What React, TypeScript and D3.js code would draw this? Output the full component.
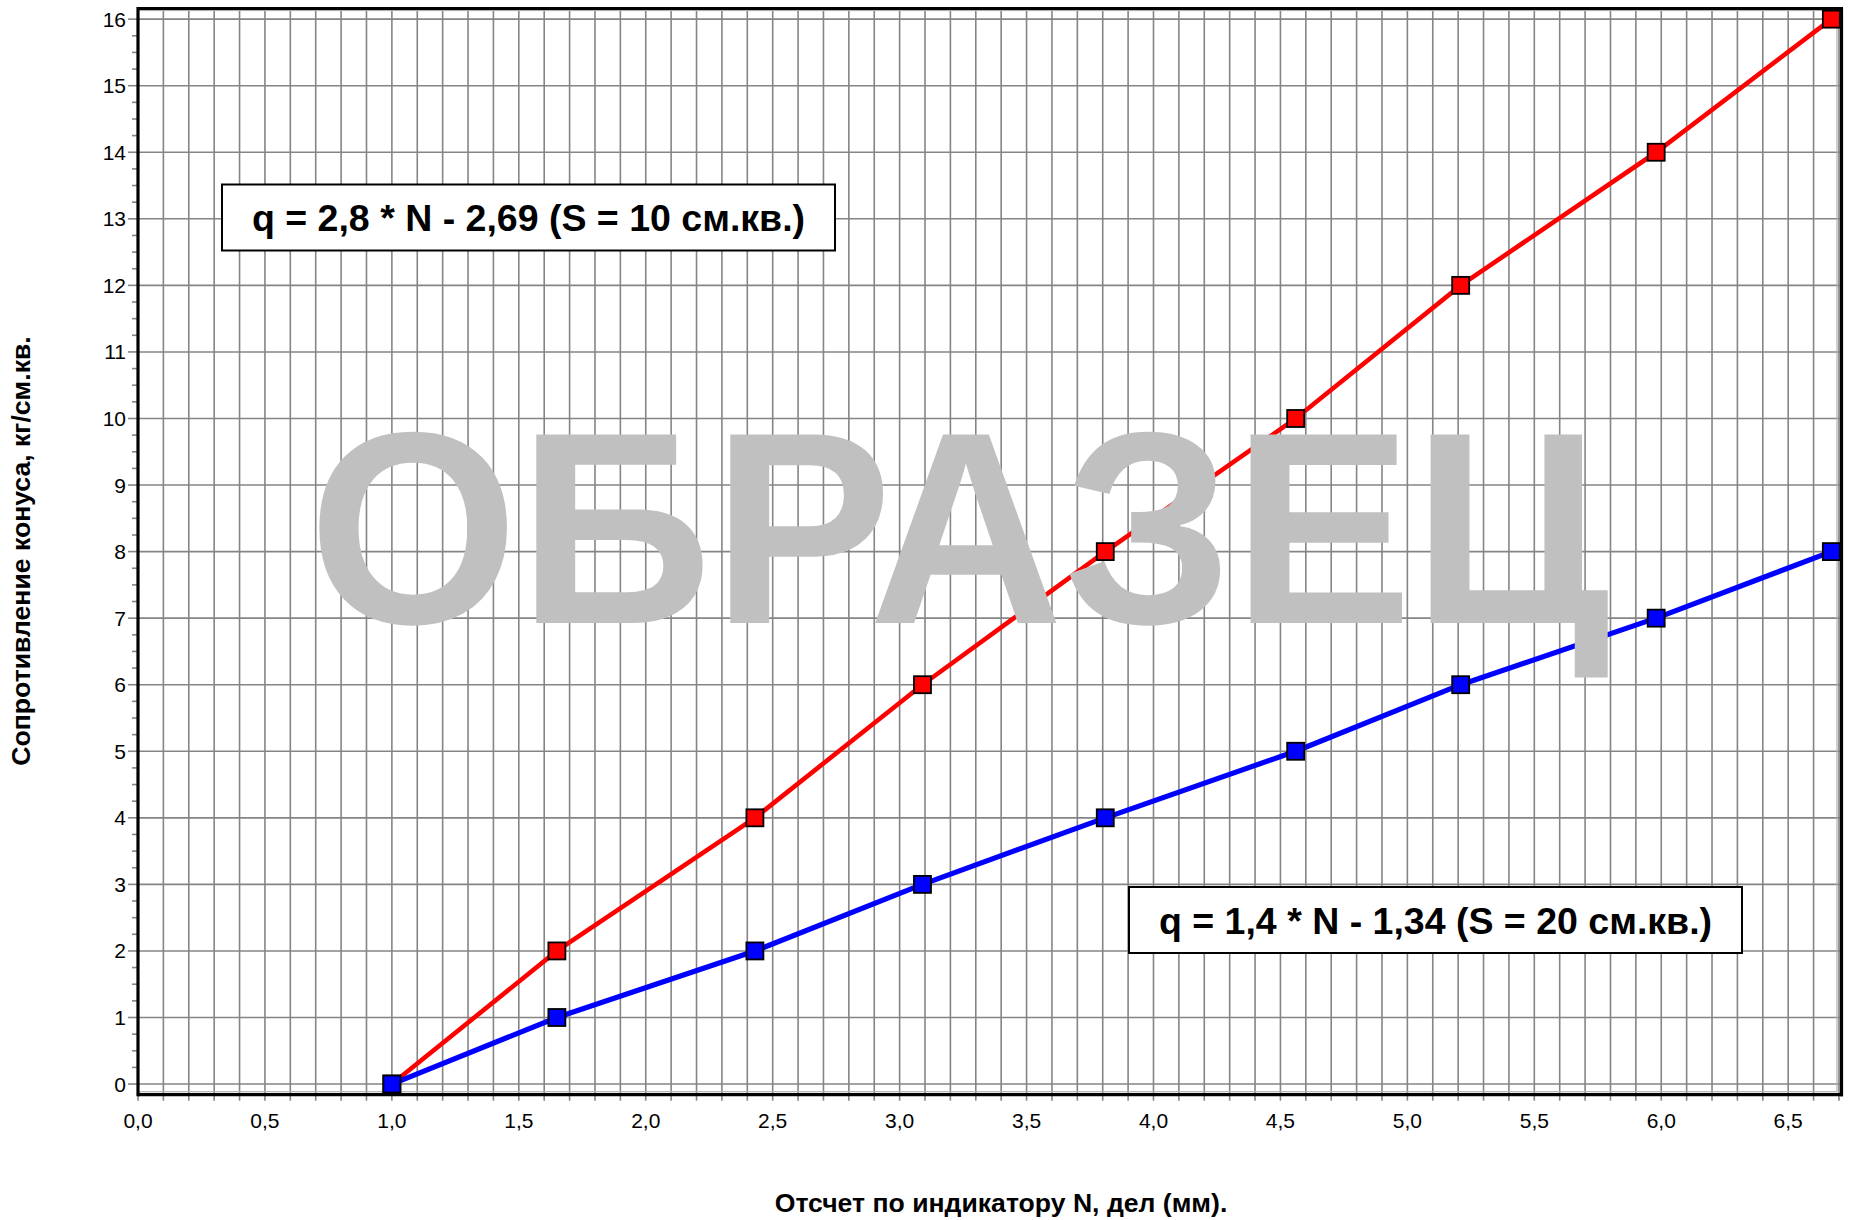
import * as React from "react";
import * as d3 from "d3";

// readings of the indicator (N) and cone resistance for two cone areas
const readingsN = [1.0, 1.65, 2.43, 3.09, 3.81, 4.56, 5.21, 5.98, 6.67];
const q10 = [0, 2, 4, 6, 8, 10, 12, 14, 16];
const q20 = [0, 1, 2, 3, 4, 5, 6, 7, 8];

const xTickValues = [0, 0.5, 1, 1.5, 2, 2.5, 3, 3.5, 4, 4.5, 5, 5.5, 6, 6.5];
const xTickLabels = ["0,0", "0,5", "1,0", "1,5", "2,0", "2,5", "3,0", "3,5", "4,0", "4,5", "5,0", "5,5", "6,0", "6,5"];
const yTickValues = [0, 1, 2, 3, 4, 5, 6, 7, 8, 9, 10, 11, 12, 13, 14, 15, 16];

const xTitle = "Отсчет по индикатору N, дел (мм).";
const yTitle = "Сопротивление конуса, кг/см.кв.";
const eq10 = "q = 2,8 * N - 2,69 (S = 10 см.кв.)";
const eq20 = "q = 1,4 * N - 1,34 (S = 20 см.кв.)";
const watermark = "ОБРАЗЕЦ";

const W = 1854;
const H = 1220;
const FONT = "'Liberation Sans', Arial, sans-serif";
const GRID = "#858585";

const App = () => {
  const x = d3.scaleLinear().domain([0, 6.71]).range([138, 1841.5]);
  const y = d3.scaleLinear().domain([-0.16, 16.16]).range([1094.7, 8.5]);

  const minorX = d3.range(0, 67.5).map((i) => i / 10);
  const minorY = d3.range(0, 16.01, 0.25);

  const line = d3
    .line<number>()
    .x((_, i) => x(readingsN[i]))
    .y((d) => y(d));

  const [x0, x1] = x.range();
  const [y0, y1] = y.range();

  const series = [
    { values: q10, color: "#ff0000", width: 4.6 },
    { values: q20, color: "#0000ff", width: 5.2 },
  ];

  const box = (left: number, top: number, w: number, h: number, text: string) => (
    <g>
      <rect x={left} y={top} width={w} height={h} fill="#fff" stroke="#000" strokeWidth={2} />
      <text
        x={left + w / 2}
        y={top + h / 2}
        dy="0.36em"
        textAnchor="middle"
        fontFamily={FONT}
        fontWeight="bold"
        fontSize={37.5}
      >
        {text}
      </text>
    </g>
  );

  return (
    <svg width={W} height={H} style={{ position: "absolute", left: 0, top: 0, background: "#fff" }}>
      <rect width={W} height={H} fill="#fff" />

      {/* grid */}
      <g stroke={GRID} strokeWidth={1.6}>
        {minorX.slice(1).map((v) => (
          <line key={"gx" + v} x1={x(v)} x2={x(v)} y1={y1} y2={y0} />
        ))}
        {yTickValues.map((v) => (
          <line key={"gy" + v} x1={x0} x2={x1} y1={y(v)} y2={y(v)} />
        ))}
      </g>
      <rect x={x0} y={y1 + 2} width={x1 - x0 - 4.5} height={y0 - y1 - 5} fill="none" stroke="#b0b0b0" strokeWidth={1.2} />

      {/* ticks */}
      <g stroke={GRID} strokeWidth={1.6}>
        {minorX.map((v) => (
          <line key={"tx" + v} x1={x(v)} x2={x(v)} y1={y0} y2={y0 + 6} />
        ))}
        {minorY.map((v) => (
          <line key={"ty" + v} x1={x0 - (Number.isInteger(v) ? 10 : 6)} x2={x0} y1={y(v)} y2={y(v)} />
        ))}
      </g>

      {/* frame */}
      <g stroke="#000" strokeWidth={3.2} fill="none">
        <line x1={x0} x2={x0} y1={y1 - 1.5} y2={y0 + 1.5} />
        <line x1={x0} x2={x1 + 1.5} y1={y0} y2={y0} />
        <line x1={x0} x2={x1 + 1.5} y1={y1} y2={y1} />
        <line x1={x1} x2={x1} y1={y1} y2={y0 + 1.5} />
      </g>

      {/* tick labels */}
      <g fontFamily={FONT} fontSize={21} fill="#000">
        {xTickValues.map((v, i) => (
          <text key={"lx" + v} x={x(v)} y={y0 + 33} textAnchor="middle">
            {xTickLabels[i]}
          </text>
        ))}
        {yTickValues.map((v) => (
          <text key={"ly" + v} x={x0 - 12} y={y(v)} dy="0.36em" textAnchor="end">
            {v}
          </text>
        ))}
      </g>

      {/* series */}
      {series.map((s, si) => (
        <g key={"s" + si}>
          <path d={line(s.values) ?? ""} fill="none" stroke={s.color} strokeWidth={s.width} />
          {s.values.map((v, i) => (
            <rect
              key={i}
              x={x(readingsN[i]) - 8.5}
              y={y(v) - 8.5}
              width={17}
              height={17}
              fill={s.color}
              stroke="#000"
              strokeWidth={1.8}
            />
          ))}
        </g>
      ))}

      {/* watermark */}
      <g transform="translate(959, 623) scale(0.985, 1)">
        <text textAnchor="middle" fontFamily={FONT} fontWeight="bold" fontSize={274} fill="#c0c0c0">
          {watermark}
        </text>
      </g>

      {box(222, 184.5, 613, 66, eq10)}
      {box(1129, 887, 613, 66, eq20)}

      {/* axis titles */}
      <text x={1001} y={1212} textAnchor="middle" fontFamily={FONT} fontWeight="bold" fontSize={26.6}>
        {xTitle}
      </text>
      <text
        transform={`translate(30, 551) rotate(-90)`}
        textAnchor="middle"
        fontFamily={FONT}
        fontWeight="bold"
        fontSize={26.6}
      >
        {yTitle}
      </text>
    </svg>
  );
};

export default App;
